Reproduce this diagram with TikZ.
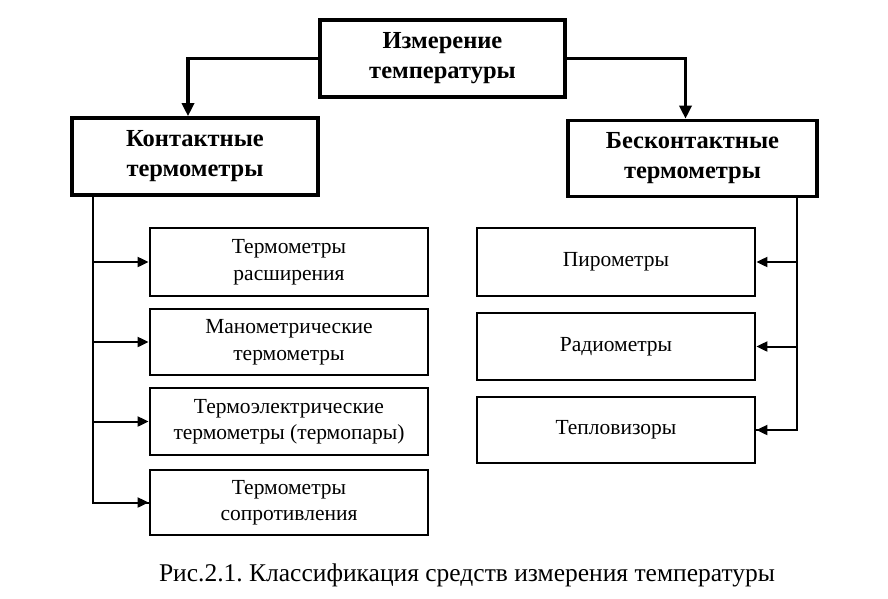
\documentclass[tikz,border=0pt]{standalone}
\usepackage{fontspec}
\setmainfont{Liberation Serif}
\usepackage{xcolor}
\usetikzlibrary{arrows.meta}
\definecolor{ink}{HTML}{000000}
\definecolor{paper}{HTML}{FFFFFF}
\tikzset{
  head/.style={draw=ink, line width=3.6pt, align=center, inner sep=0pt,
    font=\fontsize{24.5}{30}\selectfont\bfseries},
  kind/.style={draw=ink, line width=2.8pt, align=center, inner sep=0pt,
    minimum width=278pt, font=\fontsize{21.5}{26.5}\selectfont},
  main/.style={draw=ink, line width=3.6pt, -{Triangle[length=13pt,width=12pt]}},
  link/.style={draw=ink, line width=2pt, -{Triangle[length=11pt,width=10pt]}},
  bus/.style={draw=ink, line width=2pt},
  figcap/.style={text=ink, font=\fontsize{25.5}{28}\selectfont},
}
\frenchspacing
\begin{document}
\begin{tikzpicture}[x=1pt,y=-1pt]
  \fill[paper] (0,0) rectangle (888,598);
  \useasboundingbox (0,0) rectangle (888,598);

  % top level
  \node[head, minimum width=245pt, minimum height=77pt] (meas) at (442.5,58.5) {Измерение\\температуры};
  \node[head, minimum width=246pt, minimum height=77pt] (cont) at (195,156.5) {Контактные\\термометры};
  \node[head, minimum width=249pt, minimum height=76pt] (ncont) at (692.5,158.5) {Бесконтактные\\термометры};
  \draw[main] (meas.west) -| ([xshift=-7pt]cont.north);
  \draw[main] (meas.east) -| ([xshift=-7pt]ncont.north);

  % contact kinds
  \node[kind, minimum height=68pt] (exp) at (289,262) {Термометры\\расширения};
  \node[kind, minimum height=66pt] (mano) at (289,342) {Манометрические\\термометры};
  \node[kind, minimum height=67pt] (tpair) at (289,421.5) {Термоэлектрические\\термометры (термопары)};
  \node[kind, minimum height=65pt] (resist) at (289,502.5) {Термометры\\сопротивления};
  \coordinate (lbus) at ([xshift=23pt]cont.south west);
  \draw[bus] (lbus) |- (resist.west);
  \foreach \k in {exp,mano,tpair,resist}
    \draw[link] (lbus |- \k.west) -- (\k.west);

  % non-contact kinds
  \node[kind, minimum height=68pt] (pyro) at (616,262) {Пирометры};
  \node[kind, minimum height=67pt] (radio) at (616,346.5) {Радиометры};
  \node[kind, minimum height=66pt] (therm) at (616,430) {Тепловизоры};
  \coordinate (rbus) at ([xshift=-22pt]ncont.south east);
  \draw[bus] (rbus) |- (therm.east);
  \foreach \k in {pyro,radio,therm}
    \draw[link] (rbus |- \k.east) -- (\k.east);

  \node[figcap] (title) at (467,575) {Рис.2.1. Классификация средств измерения температуры};
\end{tikzpicture}
\end{document}
